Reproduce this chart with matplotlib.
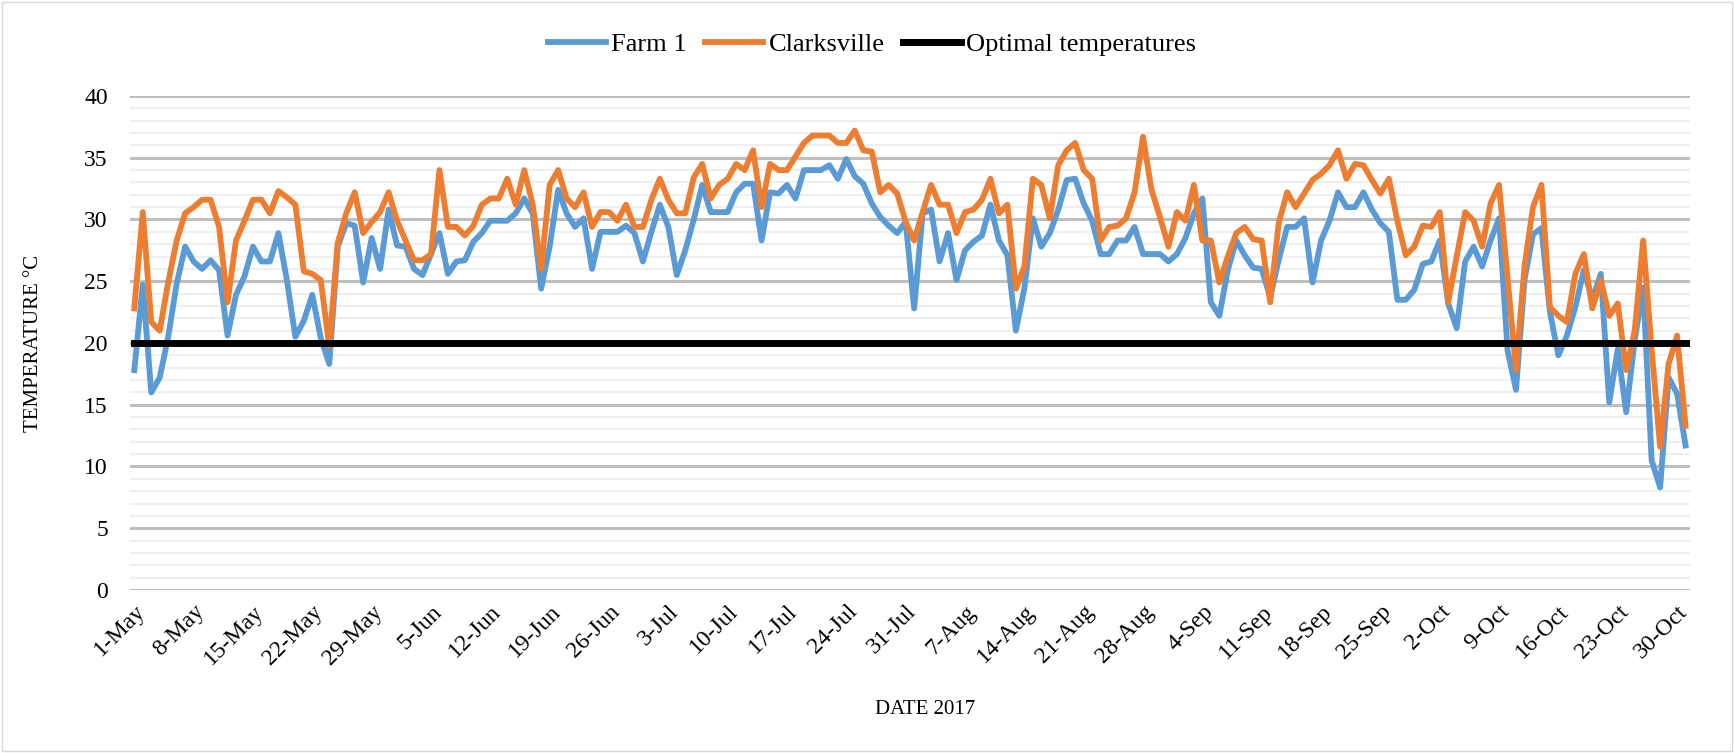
import matplotlib
matplotlib.use("Agg")
import matplotlib.pyplot as plt
from matplotlib.ticker import MultipleLocator
import pandas as pd

# daily readings, 1 May - 31 Oct 2017
dates = pd.date_range("2017-05-01", "2017-10-31", freq="D")

farm1 = [
    17.8, 24.7, 16.0, 17.2, 20.5, 24.8, 27.8, 26.6, 26.0, 26.7,
    25.9, 20.6, 23.9, 25.4, 27.8, 26.6, 26.6, 28.9, 25.1, 20.5,
    21.8, 23.9, 20.4, 18.3, 27.8, 29.7, 29.5, 24.9, 28.5, 26.0,
    30.8, 27.9, 27.8, 26.0, 25.5, 27.2, 28.9, 25.6, 26.6, 26.7,
    28.2, 28.9, 29.9, 29.9, 29.9, 30.5, 31.7, 30.5, 24.4, 27.8,
    32.4, 30.5, 29.4, 30.1, 26.0, 29.0, 29.0, 29.0, 29.5, 28.9,
    26.6, 29.0, 31.2, 29.4, 25.5, 27.5, 30.0, 32.8, 30.6, 30.6,
    30.6, 32.2, 32.9, 32.9, 28.3, 32.2, 32.1, 32.8, 31.7, 34.0,
    34.0, 34.0, 34.4, 33.3, 34.9, 33.5, 32.9, 31.3, 30.2, 29.5,
    28.9, 29.8, 22.8, 30.5, 30.8, 26.6, 28.9, 25.1, 27.5, 28.2,
    28.7, 31.2, 28.3, 27.1, 21.0, 24.4, 30.1, 27.8, 28.9, 30.8,
    33.2, 33.3, 31.3, 29.9, 27.2, 27.2, 28.3, 28.3, 29.4, 27.2,
    27.2, 27.2, 26.6, 27.2, 28.5, 30.5, 31.7, 23.3, 22.2, 25.9,
    28.3, 27.1, 26.1, 26.0, 23.7, 26.7, 29.4, 29.4, 30.1, 24.9,
    28.3, 29.9, 32.2, 31.0, 31.0, 32.2, 30.8, 29.7, 29.0, 23.5,
    23.5, 24.3, 26.4, 26.6, 28.3, 23.2, 21.2, 26.6, 27.8, 26.2,
    28.3, 30.1, 19.4, 16.2, 25.1, 28.8, 29.3, 22.5, 19.0, 20.6,
    22.9, 25.9, 23.5, 25.6, 15.2, 19.5, 14.4, 20.2, 24.5, 10.5,
    8.3, 17.2, 15.9, 11.7,
]

clarksville = [
    22.8, 30.6, 21.7, 21.0, 24.9, 28.3, 30.5, 31.0, 31.6, 31.6,
    29.4, 23.3, 28.3, 29.9, 31.6, 31.6, 30.5, 32.3, 31.8, 31.2,
    25.8, 25.6, 25.1, 19.7, 28.1, 30.5, 32.2, 28.9, 29.8, 30.6,
    32.2, 29.9, 28.3, 26.7, 26.7, 27.2, 34.0, 29.4, 29.4, 28.7,
    29.5, 31.2, 31.7, 31.7, 33.3, 31.2, 34.0, 31.2, 26.0, 32.8,
    34.0, 31.7, 31.0, 32.2, 29.4, 30.6, 30.6, 29.9, 31.2, 29.4,
    29.4, 31.6, 33.3, 31.6, 30.5, 30.5, 33.4, 34.5, 31.7, 32.8,
    33.3, 34.5, 34.0, 35.6, 31.0, 34.5, 34.0, 34.0, 35.1, 36.2,
    36.8, 36.8, 36.8, 36.2, 36.2, 37.2, 35.6, 35.5, 32.2, 32.8,
    32.1, 29.8, 28.3, 30.6, 32.8, 31.2, 31.2, 28.9, 30.6, 30.8,
    31.6, 33.3, 30.5, 31.2, 24.4, 26.2, 33.3, 32.8, 30.1, 34.4,
    35.6, 36.2, 34.0, 33.3, 28.3, 29.4, 29.5, 30.1, 32.2, 36.7,
    32.4, 30.2, 27.8, 30.6, 29.9, 32.8, 28.3, 28.3, 24.9, 27.0,
    28.9, 29.4, 28.4, 28.3, 23.3, 29.7, 32.2, 31.0, 32.1, 33.2,
    33.7, 34.4, 35.6, 33.3, 34.5, 34.4, 33.2, 32.1, 33.3, 29.9,
    27.1, 27.8, 29.5, 29.4, 30.6, 23.3, 27.0, 30.6, 29.9, 27.8,
    31.3, 32.8, 25.3, 17.8, 26.2, 31.0, 32.8, 22.9, 22.2, 21.7,
    25.6, 27.2, 22.8, 25.1, 22.2, 23.2, 17.8, 21.0, 28.3, 19.5,
    11.6, 18.3, 20.6, 13.3,
]

optimal = 20

BLUE = "#5B9BD5"
ORANGE = "#ED7D31"

plt.rcParams["font.family"] = ["Liberation Serif", "DejaVu Serif"]

fig = plt.figure(figsize=(17.34, 7.53), dpi=100)
ax = fig.add_axes([0.075, 0.2165, 0.8995, 0.656])

ax.plot(dates, farm1, color=BLUE, lw=4.2, label="Farm 1", solid_joinstyle="round")
ax.plot(dates, clarksville, color=ORANGE, lw=4.2, label="Clarksville", solid_joinstyle="round")
ax.plot(dates, [optimal] * len(dates), color="black", lw=5, label="Optimal temperatures")

half_day = pd.Timedelta(hours=12)
ax.set_xlim(dates[0] - half_day, dates[-1] + half_day)
ax.set_ylim(0, 40)

ax.yaxis.set_major_locator(MultipleLocator(5))
ax.yaxis.set_minor_locator(MultipleLocator(1))
ax.grid(axis="y", which="major", color="#bfbfbf", lw=2.2)
ax.grid(axis="y", which="minor", color="#efefef", lw=1.5)
ax.set_axisbelow(True)

ticks = dates[::7]
ax.set_xticks(ticks)
ax.set_xticklabels([f"{d.day}-{d.strftime('%b')}" for d in ticks],
                   rotation=45, ha="right", rotation_mode="anchor")
ax.set_xticks([], minor=True)

ax.tick_params(axis="both", which="both", length=0, labelsize=17)
ax.tick_params(axis="y", pad=16)
ax.tick_params(axis="x", pad=8)
for s in ax.spines.values():
    s.set_visible(False)

ax.set_ylabel("TEMPERATURE °C", fontsize=15, labelpad=30)
ax.set_xlabel("DATE 2017", fontsize=15)
ax.xaxis.set_label_coords(0.51, -0.222)

fig.legend(loc="center", bbox_to_anchor=(0.503, 0.941), ncol=3, frameon=False,
           fontsize=19, handlelength=2.2, columnspacing=0.7, handletextpad=0.2)

fig.patches.append(plt.Rectangle((0.001, 0.002), 0.998, 0.996, transform=fig.transFigure,
                                 fill=False, edgecolor="#d9d9d9", lw=1))

fig.savefig("out.png", dpi=100)
